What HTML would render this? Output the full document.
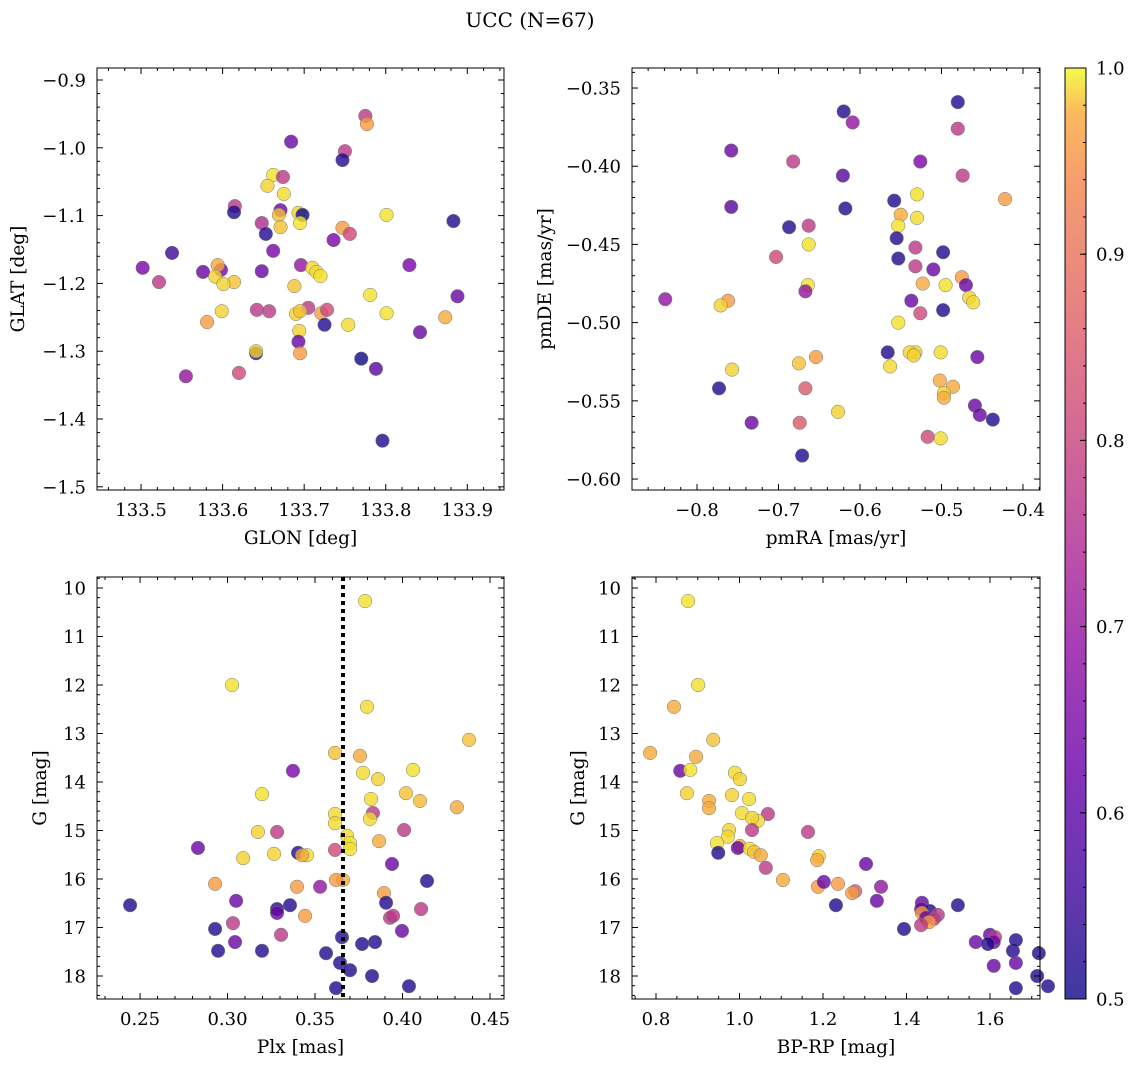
<!DOCTYPE html>
<html><head><meta charset="utf-8"><style>
body{margin:0;background:#fff;}
svg{display:block;font-family:"DejaVu Serif","Liberation Serif",serif;}
</style></head><body>
<svg id="fig" width="1136" height="1067" viewBox="0 0 1136 1067" xmlns="http://www.w3.org/2000/svg">
<defs><linearGradient id="cb" x1="0" y1="1" x2="0" y2="0">
<stop offset="0" stop-color="#0d0887"/><stop offset="0.125" stop-color="#41049d"/><stop offset="0.25" stop-color="#6a00a8"/><stop offset="0.375" stop-color="#8f0da4"/><stop offset="0.5" stop-color="#b12a90"/><stop offset="0.625" stop-color="#cc4778"/><stop offset="0.75" stop-color="#e16462"/><stop offset="0.875" stop-color="#f2844b"/><stop offset="0.95" stop-color="#fca636"/><stop offset="1" stop-color="#f0f921"/>
</linearGradient></defs>
<text x="530" y="27" font-size="20" text-anchor="middle">UCC (N=67)</text>
</svg>
<script>
// Panel 1: GLON / GLAT
const p1x=[133.775,133.777,133.750,133.747,133.684,133.662,133.674,133.655,133.675,133.615,133.614,133.671,133.669,133.693,133.698,133.695,133.671,133.648,133.653,133.747,133.756,133.801,133.883,133.736,133.662,133.538,133.502,133.522,133.576,133.598,133.594,133.591,133.614,133.648,133.696,133.710,133.715,133.720,133.829,133.888,133.781,133.688,133.601,133.599,133.581,133.642,133.657,133.705,133.690,133.695,133.721,133.728,133.801,133.873,133.725,133.754,133.842,133.694,133.693,133.695,133.641,133.641,133.770,133.788,133.620,133.555,133.796];
const p1y=[-0.953,-0.965,-1.005,-1.018,-0.991,-1.040,-1.043,-1.056,-1.068,-1.086,-1.095,-1.092,-1.099,-1.096,-1.099,-1.111,-1.117,-1.111,-1.127,-1.118,-1.127,-1.099,-1.108,-1.136,-1.152,-1.155,-1.177,-1.198,-1.183,-1.180,-1.173,-1.190,-1.198,-1.182,-1.173,-1.177,-1.183,-1.189,-1.173,-1.219,-1.217,-1.204,-1.201,-1.241,-1.257,-1.239,-1.241,-1.236,-1.245,-1.241,-1.244,-1.239,-1.244,-1.250,-1.261,-1.261,-1.272,-1.270,-1.286,-1.303,-1.303,-1.300,-1.311,-1.326,-1.332,-1.337,-1.432];
const p1c=[0.72,0.88,0.72,0.52,0.6,0.97,0.72,0.95,0.96,0.72,0.52,0.6,0.93,0.95,0.5,0.97,0.93,0.7,0.52,0.88,0.75,0.97,0.52,0.62,0.62,0.55,0.62,0.72,0.6,0.62,0.9,0.95,0.93,0.6,0.65,0.96,0.96,0.97,0.62,0.6,0.97,0.93,0.95,0.95,0.88,0.72,0.72,0.72,0.95,0.93,0.88,0.75,0.97,0.9,0.52,0.96,0.6,0.95,0.6,0.88,0.52,0.95,0.5,0.58,0.75,0.65,0.52];
// Panel 2: pmRA / pmDE
const p2x=[-0.620,-0.480,-0.609,-0.480,-0.758,-0.682,-0.526,-0.474,-0.621,-0.758,-0.618,-0.530,-0.422,-0.558,-0.530,-0.550,-0.553,-0.687,-0.663,-0.555,-0.532,-0.663,-0.498,-0.553,-0.703,-0.510,-0.532,-0.475,-0.664,-0.667,-0.470,-0.523,-0.495,-0.466,-0.461,-0.537,-0.839,-0.762,-0.771,-0.526,-0.498,-0.553,-0.566,-0.532,-0.539,-0.534,-0.501,-0.456,-0.654,-0.675,-0.563,-0.757,-0.502,-0.486,-0.497,-0.497,-0.667,-0.773,-0.459,-0.627,-0.453,-0.437,-0.501,-0.517,-0.733,-0.674,-0.671];
const p2y=[-0.365,-0.359,-0.372,-0.376,-0.390,-0.397,-0.397,-0.406,-0.406,-0.426,-0.427,-0.418,-0.421,-0.422,-0.433,-0.431,-0.438,-0.439,-0.438,-0.446,-0.452,-0.450,-0.455,-0.459,-0.458,-0.466,-0.464,-0.471,-0.476,-0.480,-0.476,-0.475,-0.476,-0.484,-0.487,-0.486,-0.485,-0.486,-0.489,-0.494,-0.492,-0.500,-0.519,-0.519,-0.519,-0.521,-0.519,-0.522,-0.522,-0.526,-0.528,-0.530,-0.537,-0.541,-0.545,-0.548,-0.542,-0.542,-0.553,-0.557,-0.559,-0.562,-0.574,-0.573,-0.564,-0.564,-0.585];
const p2c=[0.52,0.52,0.65,0.72,0.6,0.72,0.62,0.72,0.58,0.58,0.52,0.97,0.88,0.52,0.96,0.9,0.97,0.52,0.72,0.52,0.72,0.97,0.52,0.52,0.75,0.6,0.72,0.88,0.97,0.65,0.6,0.9,0.97,0.95,0.96,0.6,0.65,0.88,0.95,0.75,0.52,0.97,0.52,0.95,0.95,0.95,0.96,0.6,0.88,0.93,0.96,0.95,0.9,0.9,0.95,0.9,0.78,0.52,0.6,0.95,0.6,0.52,0.96,0.75,0.6,0.78,0.52];
// Panel 3: Plx / G
const p3x=[0.3786,0.3026,0.3797,0.4380,0.3614,0.3757,0.3374,0.4060,0.3774,0.3860,0.3820,0.3197,0.4020,0.4100,0.4311,0.3831,0.3614,0.3814,0.3614,0.3683,0.3174,0.3283,0.4009,0.3700,0.3866,0.3700,0.2831,0.3266,0.3403,0.3454,0.3426,0.3089,0.3614,0.3940,0.3660,0.3620,0.4140,0.3529,0.3397,0.2929,0.3894,0.2443,0.3049,0.3357,0.3906,0.3283,0.3283,0.3443,0.3929,0.3946,0.4106,0.3031,0.2929,0.3997,0.3306,0.3654,0.3043,0.3843,0.3769,0.2946,0.3197,0.3563,0.3643,0.3700,0.3826,0.3620,0.4037];
const p3y=[10.27,12.00,12.45,13.13,13.40,13.46,13.77,13.75,13.81,13.94,14.35,14.25,14.23,14.39,14.52,14.64,14.66,14.76,14.85,15.11,15.03,15.03,14.99,15.26,15.22,15.38,15.36,15.48,15.46,15.51,15.51,15.57,15.40,15.69,16.02,16.02,16.04,16.16,16.16,16.10,16.29,16.54,16.45,16.54,16.49,16.62,16.70,16.76,16.80,16.76,16.62,16.91,17.03,17.07,17.15,17.20,17.30,17.30,17.34,17.48,17.48,17.53,17.73,17.88,18.00,18.25,18.21];
const p3c=[0.97,0.97,0.96,0.93,0.93,0.9,0.62,0.97,0.96,0.95,0.96,0.97,0.93,0.92,0.9,0.72,0.96,0.96,0.96,0.96,0.95,0.72,0.72,0.97,0.9,0.97,0.6,0.95,0.52,0.96,0.9,0.95,0.75,0.6,0.9,0.88,0.52,0.65,0.88,0.88,0.88,0.52,0.6,0.52,0.52,0.52,0.6,0.88,0.72,0.72,0.72,0.72,0.52,0.6,0.72,0.52,0.6,0.52,0.52,0.52,0.52,0.52,0.52,0.52,0.52,0.52,0.52];
const plxMedian=0.366;
// Panel 4: BP-RP / G
const p4x=[0.877,0.901,0.843,0.786,0.937,0.896,0.858,0.882,0.989,1.001,0.874,0.927,0.927,1.023,0.982,1.006,1.068,1.044,1.030,1.030,1.164,0.975,0.972,0.946,1.001,0.996,1.025,1.035,1.051,0.949,1.190,1.186,1.303,1.063,1.104,1.236,1.188,1.202,1.277,1.270,1.339,1.231,1.329,1.523,1.437,1.435,1.456,1.437,1.475,1.447,1.466,1.454,1.435,1.394,1.600,1.612,1.609,1.566,1.595,1.655,1.717,1.662,1.609,1.713,1.739,1.662,1.662];
const p4y=[10.27,12.00,12.45,13.40,13.13,13.48,13.77,13.75,13.81,13.94,14.23,14.39,14.54,14.35,14.27,14.64,14.66,14.80,14.74,14.99,15.03,14.99,15.13,15.26,15.32,15.36,15.38,15.44,15.51,15.46,15.53,15.61,15.69,15.77,16.02,16.10,16.16,16.06,16.25,16.29,16.16,16.54,16.45,16.54,16.49,16.62,16.66,16.70,16.74,16.80,16.82,16.89,16.95,17.03,17.15,17.20,17.30,17.30,17.34,17.48,17.53,17.73,17.79,18.00,18.21,18.25,17.26];
const p4c=[0.97,0.97,0.9,0.9,0.93,0.9,0.6,0.97,0.96,0.95,0.95,0.9,0.9,0.96,0.95,0.96,0.72,0.96,0.95,0.72,0.72,0.95,0.96,0.97,0.9,0.6,0.97,0.93,0.9,0.52,0.95,0.9,0.6,0.72,0.9,0.88,0.88,0.6,0.78,0.88,0.65,0.52,0.6,0.52,0.6,0.6,0.52,0.88,0.72,0.6,0.72,0.88,0.72,0.52,0.6,0.72,0.6,0.6,0.52,0.52,0.52,0.6,0.6,0.52,0.52,0.52,0.52];
const cbTicks=[0.5,0.6,0.7,0.8,0.9,1.0];

const NS="http://www.w3.org/2000/svg";
const svg=document.getElementById('fig');
function mk(tag,attrs,parent){const e=document.createElementNS(NS,tag);for(const k in attrs)e.setAttribute(k,attrs[k]);(parent||svg).appendChild(e);return e;}
const stops=[[0,[13,8,135]],[0.25,[126,3,168]],[0.5,[204,71,120]],[0.75,[248,149,64]],[1,[240,249,33]]];
function plasma(t){t=Math.max(0,Math.min(1,t));for(let i=0;i<stops.length-1;i++){const a=stops[i],b=stops[i+1];if(t<=b[0]){const f=(t-a[0])/(b[0]-a[0]);return 'rgb('+a[1].map((v,j)=>Math.round(v+(b[1][j]-v)*f)).join(',')+')';}}return 'rgb(240,249,33)';}
function fmt(v,d){const s=v.toFixed(d);return s.startsWith('-')?'\u2212'+s.slice(1):s;}
const TF=18, LF=18.5;

function panel(o){
  const {L,T,R,B,xmin,xmax,ymin,ymax,yinv}=o;
  const sx=v=>L+(v-xmin)/(xmax-xmin)*(R-L);
  const sy=v=>yinv? T+(v-ymin)/(ymax-ymin)*(B-T) : B-(v-ymin)/(ymax-ymin)*(B-T);
  const g=mk('g',{});
  
  
  const pts=mk('g',{},g);
  
  
  for(let i=0;i<o.xs.length;i++){
    const c=mk('circle',{cx:sx(o.xs[i]),cy:sy(o.ys[i]),r:6.8,fill:plasma((o.cs[i]-0.5)/0.5),'fill-opacity':0.8,stroke:'#777','stroke-width':0.5},pts);
    
    
  }
  if(o.vline!==undefined){
    const l=mk('line',{x1:sx(o.vline),x2:sx(o.vline),y1:T,y2:B,stroke:'#000','stroke-width':4,'stroke-dasharray':'4,4'},g);
    
    
  }
  const fr=mk('rect',{x:L,y:T,width:R-L,height:B-T,fill:'none',stroke:'#000','stroke-width':1},g);
  
  
  const eps=1e-9;
  for(let k=Math.ceil(xmin/o.xminor-eps);k*o.xminor<=xmax+eps;k++){
    const v=k*o.xminor,x=sx(v);
    const major=Math.abs(v/o.xmajor-Math.round(v/o.xmajor))<1e-6;
    const len=major?6:3;
    mk('line',{x1:x,x2:x,y1:B,y2:B-len,stroke:'#000','stroke-width':1},g);
    mk('line',{x1:x,x2:x,y1:T,y2:T+len,stroke:'#000','stroke-width':1},g);
    if(major){const t=mk('text',{x:x,y:B+26,'font-size':TF,'text-anchor':'middle'},g);t.textContent=fmt(v,o.xd);
      
      }
  }
  const lo=Math.min(ymin,ymax),hi=Math.max(ymin,ymax);
  for(let k=Math.ceil(lo/o.yminor-eps);k*o.yminor<=hi+eps;k++){
    const v=k*o.yminor,y=sy(v);
    const major=Math.abs(v/o.ymajor-Math.round(v/o.ymajor))<1e-6;
    const len=major?6:3;
    mk('line',{x1:L,x2:L+len,y1:y,y2:y,stroke:'#000','stroke-width':1},g);
    mk('line',{x1:R,x2:R-len,y1:y,y2:y,stroke:'#000','stroke-width':1},g);
    if(major){const t=mk('text',{x:L-11,y:y+6.5,'font-size':TF,'text-anchor':'end'},g);t.textContent=fmt(v,o.yd);
      
      }
  }
  const xl=mk('text',{x:(L+R)/2,y:B+54,'font-size':LF,'text-anchor':'middle'},g);xl.textContent=o.xlabel;
  
  
  const ly=(T+B)/2;
  const yl=mk('text',{x:o.ylx,y:ly,'font-size':LF,'text-anchor':'middle',transform:'rotate(-90 '+o.ylx+' '+ly+')'},g);yl.textContent=o.ylabel;
  
  
}

panel({name:'glon-glat-panel',L:97,T:68,R:504,B:490,xmin:133.446,xmax:133.945,ymin:-1.5047,ymax:-0.8823,xmajor:0.1,xminor:0.02,ymajor:0.1,yminor:0.02,xd:1,yd:1,xs:p1x,ys:p1y,cs:p1c,xlabel:'GLON [deg]',ylabel:'GLAT [deg]',ylx:24});
panel({name:'pm-panel',L:632,T:68,R:1040,B:490,xmin:-0.8798,xmax:-0.3791,ymin:-0.607,ymax:-0.3372,xmajor:0.1,xminor:0.02,ymajor:0.05,yminor:0.01,xd:1,yd:2,xs:p2x,ys:p2y,cs:p2c,xlabel:'pmRA [mas/yr]',ylabel:'pmDE [mas/yr]',ylx:551});
panel({name:'plx-g-panel',L:97,T:577,R:504,B:999,xmin:0.2254,xmax:0.458,ymin:9.773,ymax:18.474,yinv:true,xmajor:0.05,xminor:0.01,ymajor:1,yminor:0.2,xd:2,yd:0,xs:p3x,ys:p3y,cs:p3c,vline:plxMedian,xlabel:'Plx [mas]',ylabel:'G [mag]',ylx:46});
panel({name:'cmd-panel',L:632,T:577,R:1040,B:999,xmin:0.7425,xmax:1.7198,ymin:9.773,ymax:18.474,yinv:true,xmajor:0.2,xminor:0.05,ymajor:1,yminor:0.2,xd:1,yd:0,xs:p4x,ys:p4y,cs:p4c,xlabel:'BP-RP [mag]',ylabel:'G [mag]',ylx:584});

const cbg=mk('g',{});


const cbT=68,cbB=999,cbL=1065,cbR=1086;
mk('rect',{x:cbL,y:cbT,width:cbR-cbL,height:cbB-cbT,fill:'url(#cb)','fill-opacity':0.8},cbg);
mk('rect',{x:cbL,y:cbT,width:cbR-cbL,height:cbB-cbT,fill:'none',stroke:'#000','stroke-width':1},cbg);
const cy=v=>cbB-(v-0.5)/0.5*(cbB-cbT);
for(let k=0;k<=25;k++){const v=0.5+k*0.02;const y=cy(v);mk('line',{x1:cbR,x2:cbR-3,y1:y,y2:y,stroke:'#000'},cbg);}
cbTicks.forEach(v=>{const y=cy(v);mk('line',{x1:cbR,x2:cbR-6,y1:y,y2:y,stroke:'#000'},cbg);
  const t=mk('text',{x:cbR+10,y:y+6.5,'font-size':TF},cbg);t.textContent=v.toFixed(1);
  
  });
</script>
</body></html>
